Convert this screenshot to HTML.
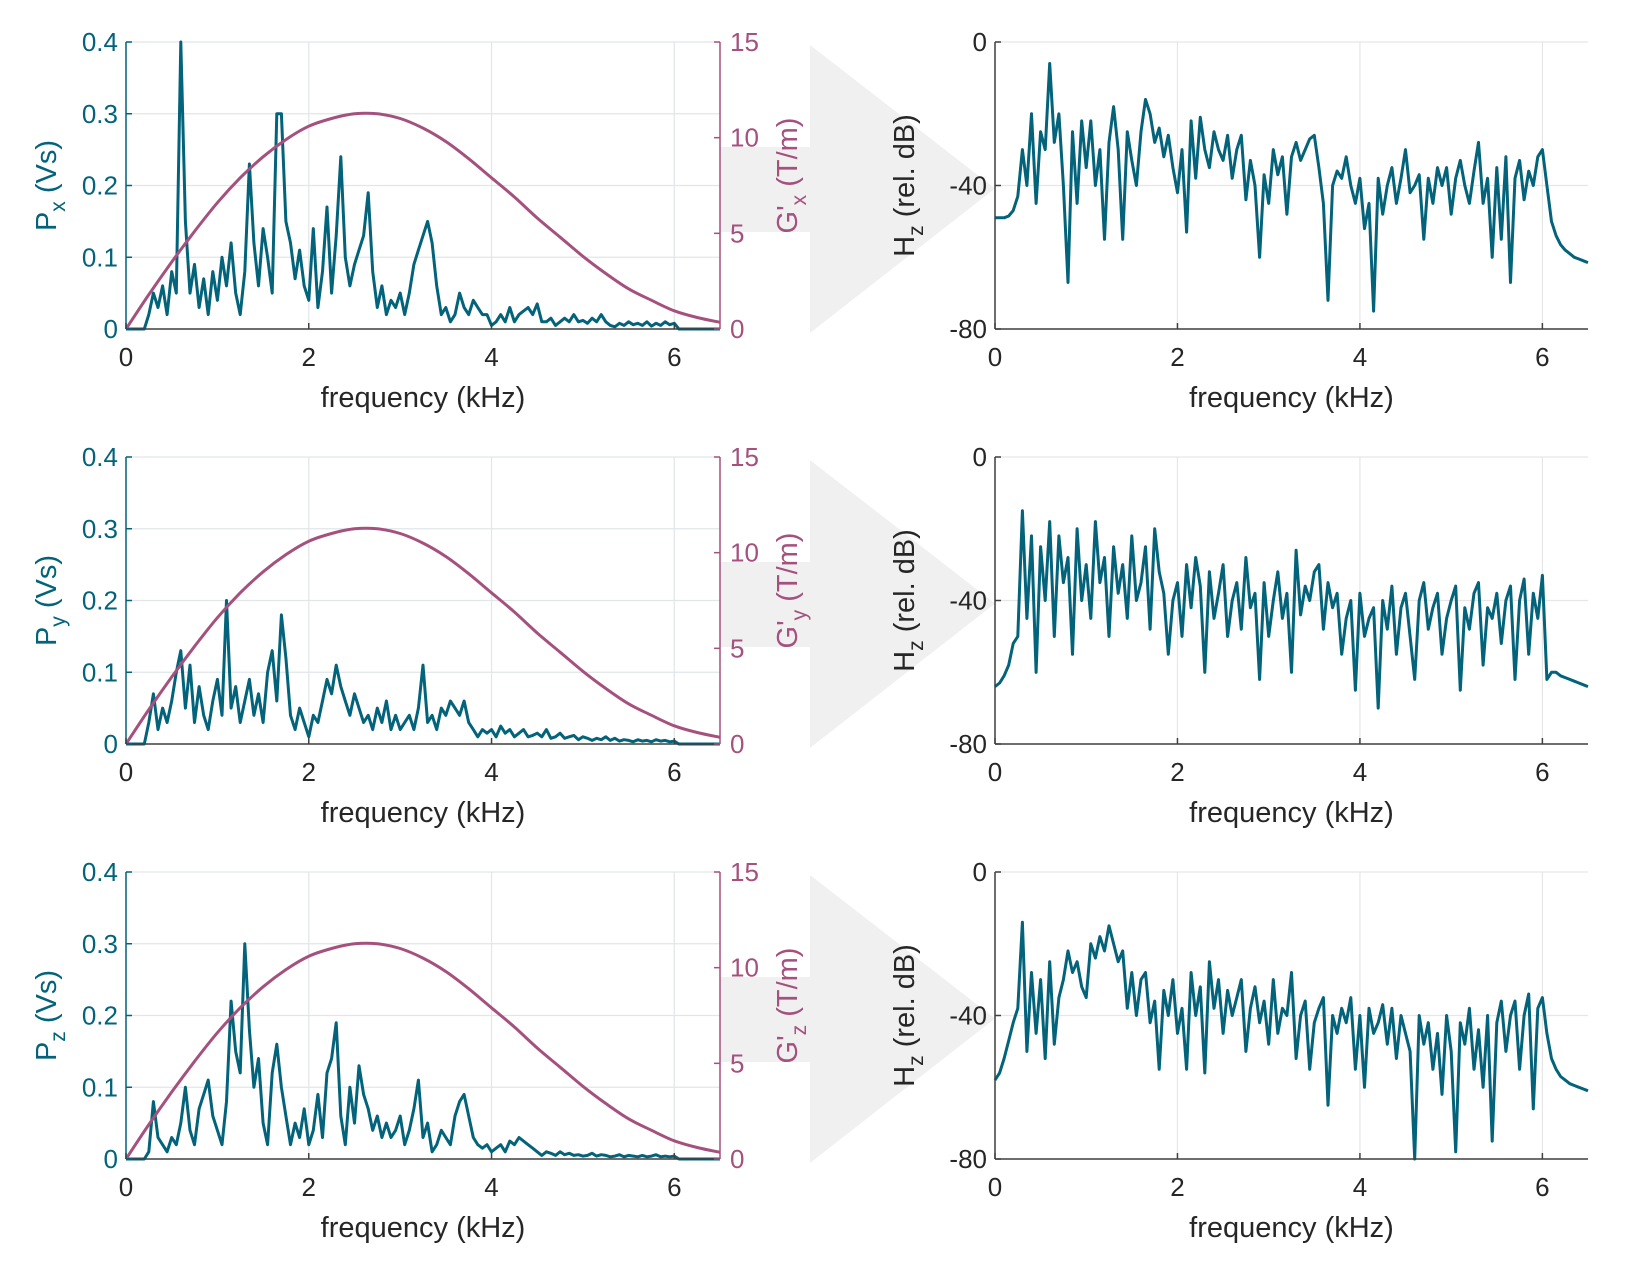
<!DOCTYPE html>
<html><head><meta charset="utf-8">
<style>
html,body{margin:0;padding:0;background:#fff;}
svg{display:block;font-family:"Liberation Sans",sans-serif;}
</style></head>
<body>
<svg id="fig" width="1650" height="1277" viewBox="0 0 1650 1277" xmlns="http://www.w3.org/2000/svg"></svg>
<script>
const freqStep = 0.05;
const gradFreqStep = 0.25;
const gradValues = [0,1.8,3.5,5.1,6.6,7.9,9.0,9.9,10.6,11.0,11.25,11.25,11.0,10.5,9.8,8.9,7.9,6.9,5.8,4.8,3.8,2.9,2.1,1.5,0.95,0.6,0.35];
const xTicks = [0,2,4,6];
const pTicks = [0,0.1,0.2,0.3,0.4];
const pTickLabels = ["0","0.1","0.2","0.3","0.4"];
const gTicks = [0,5,10,15];
const hTicks = [-80,-40,0];
const rowSubs = ["x","y","z"];

const powerX = [0,0,0,0,0,.02,.05,.03,.06,.02,.08,.05,.40,.15,.05,.09,.03,.07,.02,.08,.04,.10,.06,.12,.05,.02,.08,.23,.12,.06,.14,.10,.05,.30,.30,.15,.12,.07,.11,.06,.04,.14,.03,.08,.17,.05,.13,.24,.10,.06,.09,.11,.13,.19,.08,.03,.06,.02,.04,.03,.05,.02,.05,.09,.11,.13,.15,.12,.06,.02,.03,.01,.02,.05,.03,.02,.04,.03,.02,.02,.005,.01,.02,.01,.03,.01,.02,.025,.03,.02,.035,.01,.01,.015,.005,.01,.015,.01,.02,.01,.012,.008,.015,.01,.02,.01,.005,.003,.008,.005,.01,.006,.008,.005,.01,.004,.008,.005,.01,.006,.008,0,0,0,0,0,0,0,0,0,0];
const powerY = [0,0,0,0,0,.03,.07,.02,.05,.03,.06,.10,.13,.05,.11,.03,.08,.04,.02,.06,.09,.04,.20,.05,.08,.03,.06,.09,.04,.07,.03,.10,.13,.06,.18,.12,.04,.02,.05,.03,.01,.04,.03,.06,.09,.07,.11,.08,.06,.04,.07,.05,.03,.04,.02,.05,.03,.06,.02,.04,.02,.03,.04,.02,.05,.11,.03,.04,.02,.05,.04,.06,.05,.04,.06,.03,.02,.01,.02,.015,.02,.01,.025,.015,.02,.01,.015,.02,.01,.012,.015,.01,.02,.008,.01,.015,.008,.01,.012,.006,.01,.008,.005,.008,.006,.01,.005,.008,.004,.006,.005,.003,.006,.004,.005,.003,.006,.004,.005,.003,.004,0,0,0,0,0,0,0,0,0,0];
const powerZ = [0,0,0,0,0,.01,.08,.03,.02,.01,.03,.02,.05,.10,.04,.02,.07,.09,.11,.06,.04,.02,.08,.22,.15,.12,.30,.18,.10,.14,.05,.02,.12,.16,.10,.06,.02,.05,.03,.07,.02,.04,.09,.03,.12,.14,.19,.06,.02,.10,.05,.13,.09,.07,.04,.06,.03,.05,.03,.04,.06,.02,.04,.07,.11,.03,.05,.01,.02,.04,.03,.02,.06,.08,.09,.06,.03,.02,.015,.02,.01,.015,.02,.01,.025,.02,.03,.025,.02,.015,.01,.005,.01,.008,.005,.01,.006,.008,.005,.006,.004,.005,.008,.004,.006,.005,.003,.004,.006,.003,.005,.004,.003,.005,.003,.004,.006,.003,.004,.003,.004,0,0,0,0,0,0,0,0,0,0];

const responseX = [-49,-49,-49,-48.5,-47,-43,-30,-40,-20,-45,-25,-30,-6,-28,-20,-40,-67,-25,-45,-22,-35,-22,-40,-30,-55,-28,-18,-30,-55,-25,-33,-40,-25,-16,-20,-28,-24,-32,-26,-35,-42,-30,-53,-22,-38,-21,-30,-35,-25,-30,-33,-26,-38,-30,-26,-44,-33,-40,-60,-37,-45,-30,-37,-32,-48,-32,-28,-33,-30,-27,-26,-35,-45,-72,-40,-36,-38,-32,-40,-45,-38,-52,-45,-75,-38,-48,-40,-35,-45,-38,-30,-42,-40,-37,-55,-38,-45,-35,-40,-35,-48,-38,-33,-40,-45,-36,-28,-45,-38,-60,-35,-55,-32,-67,-38,-33,-44,-36,-40,-32,-30,-40,-50,-54,-56.5,-58,-59,-60,-60.5,-61,-61.5];
const responseY = [-64,-63,-61,-58,-52,-50,-15,-45,-22,-60,-25,-40,-18,-50,-22,-35,-28,-55,-20,-40,-30,-45,-18,-35,-28,-50,-25,-38,-30,-45,-22,-40,-35,-25,-48,-20,-32,-38,-55,-40,-35,-50,-30,-42,-28,-36,-60,-32,-45,-38,-30,-50,-40,-35,-48,-28,-42,-38,-62,-35,-50,-40,-32,-45,-38,-60,-26,-44,-36,-40,-32,-30,-48,-35,-42,-38,-55,-45,-40,-65,-38,-50,-45,-42,-70,-40,-48,-36,-55,-42,-38,-50,-62,-40,-35,-48,-42,-38,-55,-45,-40,-36,-65,-42,-48,-38,-35,-58,-42,-45,-38,-52,-40,-36,-62,-40,-34,-55,-38,-45,-33,-62,-60,-60,-61,-61.5,-62,-62.5,-63,-63.5,-64];
const responseZ = [-58,-56,-52,-47,-42,-38,-14,-50,-28,-45,-30,-52,-25,-48,-35,-30,-22,-28,-25,-32,-35,-20,-24,-18,-22,-15,-20,-25,-22,-38,-28,-40,-30,-28,-42,-36,-55,-33,-40,-30,-45,-38,-55,-28,-40,-32,-56,-25,-38,-30,-45,-33,-40,-35,-30,-50,-38,-32,-42,-36,-48,-30,-45,-38,-40,-28,-52,-40,-36,-55,-42,-38,-35,-65,-40,-45,-38,-42,-35,-55,-40,-60,-38,-45,-42,-37,-48,-38,-52,-40,-45,-50,-80,-40,-48,-42,-55,-45,-62,-40,-50,-78,-42,-48,-38,-55,-44,-60,-40,-75,-42,-36,-50,-40,-36,-55,-40,-34,-66,-38,-35,-45,-52,-55,-57,-58,-59,-59.5,-60,-60.5,-61];

const powerSeries = [powerX, powerY, powerZ];
const responseSeries = [responseX, responseY, responseZ];

const NS = "http://www.w3.org/2000/svg";
const svg = document.getElementById("fig");
const TEAL = "#03637a", MAG = "#a5517e", DARK = "#262626", GRID = "#e1e6e8";
const L0 = 126, L1 = 720, R0 = 995, R1 = 1588;
const rowTops = [42, 457, 872];
const PH = 287;
const xMax = 6.5;
const TF = 26, LF = 29, SF = 21;

function mk(tag, attrs, parent) {
  const e = document.createElementNS(NS, tag);
  for (const k in attrs) e.setAttribute(k, attrs[k]);
  (parent || svg).appendChild(e);
  return e;
}
function xScale(x0, x1) { return v => x0 + (v / xMax) * (x1 - x0); }
function yScale(top, min, max) { return v => top + PH - (v - min) / (max - min) * PH; }
function linePath(values, step, xs, ys) {
  return values.map((v, i) => (i ? "L" : "M") + xs(i * step).toFixed(1) + "," + ys(v).toFixed(1)).join("");
}
function smoothPath(values, step, xs, ys) {
  const p = values.map((v, i) => [xs(i * step), ys(v)]);
  let d = "M" + p[0][0].toFixed(1) + "," + p[0][1].toFixed(1);
  for (let i = 0; i < p.length - 1; i++) {
    const p0 = p[Math.max(0, i - 1)], p1 = p[i], p2 = p[i + 1], p3 = p[Math.min(p.length - 1, i + 2)];
    const c1 = [p1[0] + (p2[0] - p0[0]) / 6, p1[1] + (p2[1] - p0[1]) / 6];
    const c2 = [p2[0] - (p3[0] - p1[0]) / 6, p2[1] - (p3[1] - p1[1]) / 6];
    d += "C" + c1.map(n => n.toFixed(1)).join(",") + " " + c2.map(n => n.toFixed(1)).join(",") + " " + p2.map(n => n.toFixed(1)).join(",");
  }
  return d;
}
function txt(parent, x, y, s, attrs) {
  const t = mk("text", Object.assign({x: x, y: y}, attrs), parent);
  t.textContent = s;
  return t;
}

rowTops.forEach((top, r) => {
  const sub = rowSubs[r];
  const bot = top + PH;
  const arrow = mk("g", {});
  
  
  mk("rect", {x: L1, y: top + 105, width: 810 - L1, height: 85, fill: "#f0f0f0"}, arrow);
  mk("polygon", {points: `810,${top + 3} 810,${bot + 4} 995,${top + PH / 2 + 3}`, fill: "#f0f0f0"}, arrow);

  const lp = mk("g", {});
  
  
  const xs = xScale(L0, L1);
  const ysP = yScale(top, 0, 0.4);
  const ysG = yScale(top, 0, 15);
  xTicks.forEach(t => mk("line", {x1: xs(t), x2: xs(t), y1: top, y2: bot, stroke: GRID, "stroke-width": 1.2}, lp));
  pTicks.forEach(t => mk("line", {x1: L0, x2: L1, y1: ysP(t), y2: ysP(t), stroke: GRID, "stroke-width": 1.2}, lp));
  const pl = mk("path", {d: linePath(powerSeries[r], freqStep, xs, ysP), fill: "none", stroke: TEAL, "stroke-width": 3, "stroke-linejoin": "round"}, lp);
  
  
  const gl = mk("path", {d: smoothPath(gradValues, gradFreqStep, xs, ysG), fill: "none", stroke: MAG, "stroke-width": 3}, lp);
  
  
  mk("line", {x1: L0, x2: L1, y1: bot, y2: bot, stroke: "#404040", "stroke-width": 1.5}, lp);
  mk("line", {x1: L0, x2: L0, y1: top, y2: bot, stroke: TEAL, "stroke-width": 1.5}, lp);
  mk("line", {x1: L1, x2: L1, y1: top, y2: bot, stroke: MAG, "stroke-width": 1.5}, lp);
  xTicks.forEach(t => {
    mk("line", {x1: xs(t), x2: xs(t), y1: bot, y2: bot - 6, stroke: "#404040", "stroke-width": 1.5}, lp);
    const tl = txt(lp, xs(t), bot + 37, String(t), {"font-size": TF, fill: DARK, "text-anchor": "middle"});
    
    
  });
  pTicks.forEach((t, i) => {
    mk("line", {x1: L0, x2: L0 + 6, y1: ysP(t), y2: ysP(t), stroke: TEAL, "stroke-width": 1.5}, lp);
    const tl = txt(lp, L0 - 8, ysP(t) + 9, pTickLabels[i], {"font-size": TF, fill: TEAL, "text-anchor": "end"});
    
    
  });
  gTicks.forEach(t => {
    mk("line", {x1: L1, x2: L1 - 6, y1: ysG(t), y2: ysG(t), stroke: MAG, "stroke-width": 1.5}, lp);
    const tl = txt(lp, L1 + 10, ysG(t) + 9, String(t), {"font-size": TF, fill: MAG});
    
    
  });
  const xl = txt(lp, (L0 + L1) / 2, bot + 78, "frequency (kHz)", {"font-size": LF, fill: DARK, "text-anchor": "middle"});
  
  
  const yl = mk("text", {transform: `translate(56,${top + PH / 2}) rotate(-90)`, "font-size": LF, fill: TEAL, "text-anchor": "middle"}, lp);
  yl.innerHTML = `P<tspan font-size="${SF}" dy="9">${sub}</tspan><tspan dy="-9"> (Vs)</tspan>`;
  
  
  const gy = mk("text", {transform: `translate(797,${top + PH / 2 - 10}) rotate(-90)`, "font-size": LF, fill: MAG, "text-anchor": "middle"}, lp);
  gy.innerHTML = `G'<tspan font-size="${SF}" dy="9">${sub}</tspan><tspan dy="-9"> (T/m)</tspan>`;
  
  

  const rp = mk("g", {});
  
  
  const xr = xScale(R0, R1);
  const ysH = yScale(top, -80, 0);
  xTicks.forEach(t => mk("line", {x1: xr(t), x2: xr(t), y1: top, y2: bot, stroke: "#e6e6e6", "stroke-width": 1.2}, rp));
  hTicks.forEach(t => mk("line", {x1: R0, x2: R1, y1: ysH(t), y2: ysH(t), stroke: "#e6e6e6", "stroke-width": 1.2}, rp));
  const hl = mk("path", {d: linePath(responseSeries[r], freqStep, xr, ysH), fill: "none", stroke: TEAL, "stroke-width": 3, "stroke-linejoin": "round"}, rp);
  
  
  mk("line", {x1: R0, x2: R1, y1: bot, y2: bot, stroke: "#404040", "stroke-width": 1.5}, rp);
  mk("line", {x1: R0, x2: R0, y1: top, y2: bot, stroke: "#404040", "stroke-width": 1.5}, rp);
  xTicks.forEach(t => {
    mk("line", {x1: xr(t), x2: xr(t), y1: bot, y2: bot - 6, stroke: "#404040", "stroke-width": 1.5}, rp);
    const tl = txt(rp, xr(t), bot + 37, String(t), {"font-size": TF, fill: DARK, "text-anchor": "middle"});
    
    
  });
  hTicks.forEach(t => {
    mk("line", {x1: R0, x2: R0 + 6, y1: ysH(t), y2: ysH(t), stroke: "#404040", "stroke-width": 1.5}, rp);
    const tl = txt(rp, R0 - 8, ysH(t) + 9, String(t), {"font-size": TF, fill: DARK, "text-anchor": "end"});
    
    
  });
  const xl2 = txt(rp, (R0 + R1) / 2, bot + 78, "frequency (kHz)", {"font-size": LF, fill: DARK, "text-anchor": "middle"});
  
  
  const hy = mk("text", {transform: `translate(914,${top + PH / 2}) rotate(-90)`, "font-size": LF, fill: DARK, "text-anchor": "middle"}, rp);
  hy.innerHTML = `H<tspan font-size="${SF}" dy="9">z</tspan><tspan dy="-9">  (rel. dB)</tspan>`;
  
  
});
</script>
</body></html>
